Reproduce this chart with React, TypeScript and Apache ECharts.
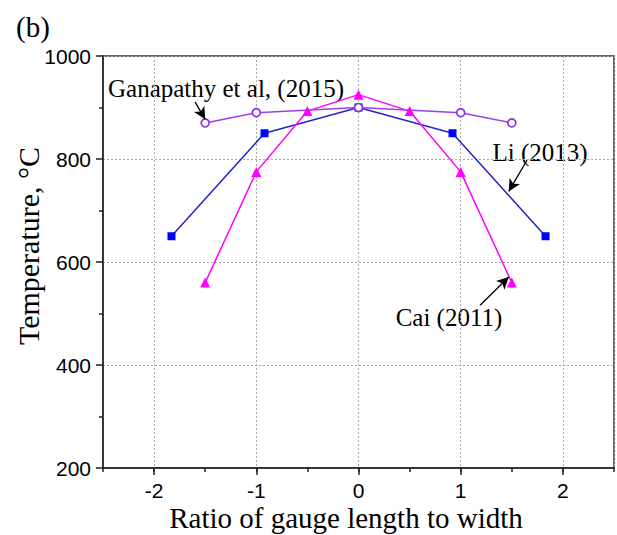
import React, { useEffect, useRef } from "react";
import * as echarts from "echarts";

// ---- data ----
const ganapathyX = [-1.5, -1, 0, 1, 1.5];
const ganapathyY = [870, 890, 900, 890, 870];

const liX = [-1.83, -0.92, 0, 0.92, 1.83];
const liY = [650, 850, 900, 850, 650];

const caiX = [-1.5, -1, -0.5, 0, 0.5, 1, 1.5];
const caiY = [560, 775, 893, 925, 893, 775, 560];

// annotation arrows: [startX, startY, endX, endY] in data units
const arrowGanapathy = [-1.6, 911, -1.5, 877];
const arrowLi = [1.65, 798, 1.47, 737];
const arrowCai = [1.19, 516, 1.47, 571];

const labelGanapathy = "Ganapathy et al, (2015)";
const labelLi = "Li (2013)";
const labelCai = "Cai (2011)";

const zip = (xs: number[], ys: number[]) => xs.map((x, i) => [x, ys[i]]);

const serif = "'Liberation Serif', 'Times New Roman', serif";
const sans = "'Liberation Sans', Arial, sans-serif";

const arrowLine = (a: number[]) => [
  { coord: [a[0], a[1]], symbol: "none" },
  { coord: [a[2], a[3]], symbol: "arrow", symbolSize: [9, 12] },
];

export default function App() {
  const ref = useRef<HTMLDivElement>(null);

  useEffect(() => {
    if (!ref.current) return;
    const chart = echarts.init(ref.current, undefined, { renderer: "svg" });
    const axisColor = "#222";
    chart.setOption({
      animation: false,
      backgroundColor: "#ffffff",
      grid: {
        left: 103,
        right: 3,
        top: 56,
        bottom: 67,
        show: true,
        borderColor: "#333",
        borderWidth: 1.5,
        backgroundColor: "transparent",
      },
      xAxis: [
        {
          // major: default nice ticks at integers (plus the extent ends)
          type: "value",
          min: -2.5,
          max: 2.5,
          splitNumber: 5,
          axisLine: { show: true, onZero: false, lineStyle: { color: axisColor, width: 1.5 } },
          axisTick: { show: true, inside: false, length: 7, lineStyle: { color: axisColor, width: 1.5 } },
          axisLabel: {
            formatter: (v: number) => (Number.isInteger(v) ? String(v) : ""),
            fontFamily: sans,
            fontSize: 21,
            color: "#000",
            margin: 12,
            showMinLabel: false,
            showMaxLabel: false,
          },
          splitLine: {
            show: true,
            lineStyle: { color: "#a8a8a8", type: [2, 2], width: 1 },
          },
        },
        {
          // minor ticks every 0.5
          type: "value",
          min: -2.5,
          max: 2.5,
          interval: 0.5,
          position: "bottom",
          offset: 0,
          axisLine: { show: false },
          axisTick: { show: true, inside: false, length: 4, lineStyle: { color: axisColor, width: 1.5 } },
          axisLabel: { show: false },
          splitLine: { show: false },
        },
      ],
      yAxis: {
        type: "value",
        min: 200,
        max: 1000,
        interval: 200,
        axisLine: { show: true, onZero: false, lineStyle: { color: axisColor, width: 1.5 } },
        axisTick: { show: true, inside: false, length: 7, lineStyle: { color: axisColor, width: 1.5 } },
        minorTick: { show: true, splitNumber: 2, length: 4, lineStyle: { color: axisColor, width: 1.5 } },
        axisLabel: {
          fontFamily: sans,
          fontSize: 21,
          color: "#000",
          margin: 12,
          formatter: (v: number) => String(v),
        },
        splitLine: { show: true, lineStyle: { color: "#a8a8a8", type: [2, 2], width: 1 } },
      },
      series: [
        {
          name: "Li (2013)",
          type: "line",
          data: zip(liX, liY),
          symbol: "rect",
          symbolSize: 8,
          itemStyle: { color: "#0000ff" },
          lineStyle: { color: "#2424c8", width: 1.5 },
          markLine: {
            silent: true,
            label: { show: false },
            lineStyle: { color: "#000", width: 1.3, type: "solid" },
            data: [arrowLine(arrowLi)],
          },
        },
        {
          name: "Cai (2011)",
          type: "line",
          data: zip(caiX, caiY),
          symbol: "triangle",
          symbolSize: 10,
          itemStyle: { color: "#ff00ff" },
          lineStyle: { color: "#ff00ff", width: 1.5 },
          markLine: {
            silent: true,
            label: { show: false },
            lineStyle: { color: "#000", width: 1.3, type: "solid" },
            data: [arrowLine(arrowCai)],
          },
        },
        {
          name: "Ganapathy et al, (2015)",
          type: "line",
          data: zip(ganapathyX, ganapathyY),
          symbol: "circle",
          symbolSize: 8,
          itemStyle: { color: "#ffffff", borderColor: "#8a2be2", borderWidth: 1.6 },
          lineStyle: { color: "#9a3ff0", width: 1.5 },
          markLine: {
            silent: true,
            label: { show: false },
            lineStyle: { color: "#000", width: 1.3, type: "solid" },
            data: [arrowLine(arrowGanapathy)],
          },
        },
      ],
      graphic: [
        {
          type: "text",
          x: 33,
          y: 27,
          style: { text: "(b)", font: `29px ${serif}`, fill: "#000", align: "center", verticalAlign: "middle" },
        },
        {
          type: "text",
          x: 28,
          y: 246,
          rotation: Math.PI / 2,
          style: {
            text: "Temperature, °C",
            font: `30px ${serif}`,
            fill: "#000",
            align: "center",
            verticalAlign: "middle",
          },
        },
        {
          type: "text",
          x: 346,
          y: 518,
          style: {
            text: "Ratio of gauge length to width",
            font: `29px ${serif}`,
            fill: "#000",
            align: "center",
            verticalAlign: "middle",
          },
        },
        {
          type: "text",
          x: 226,
          y: 88,
          style: { text: labelGanapathy, font: `25px ${serif}`, fill: "#000", align: "center", verticalAlign: "middle" },
        },
        {
          type: "text",
          x: 540,
          y: 152,
          style: { text: labelLi, font: `25px ${serif}`, fill: "#000", align: "center", verticalAlign: "middle" },
        },
        {
          type: "text",
          x: 449,
          y: 317,
          style: { text: labelCai, font: `25px ${serif}`, fill: "#000", align: "center", verticalAlign: "middle" },
        },
      ],
    });
    return () => chart.dispose();
  }, []);

  return (
    <div
      ref={ref}
      style={{ position: "absolute", left: 0, top: 0, width: 617, height: 535, background: "#fff" }}
    />
  );
}
